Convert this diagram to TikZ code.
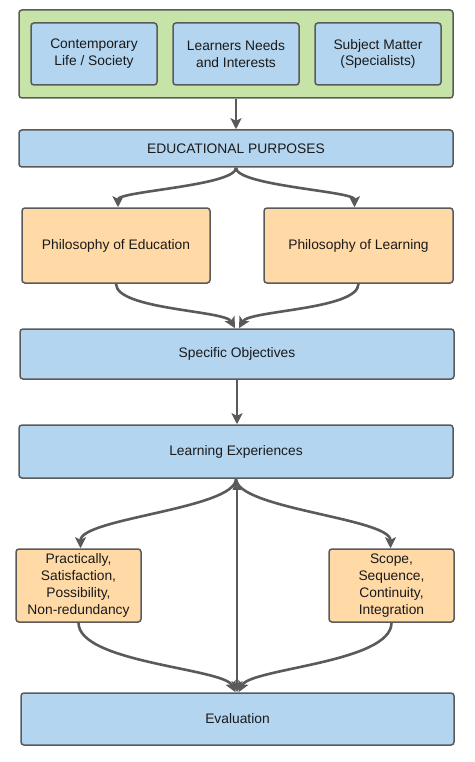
\documentclass[tikz,border=0pt]{standalone}
\usepackage{fontspec}
\setmainfont{Liberation Sans}
\usetikzlibrary{arrows.meta}
\definecolor{gfill}{HTML}{C6E3A8}
\definecolor{bfill}{HTML}{B3D5F0}
\definecolor{ofill}{HTML}{FFD9A6}
\definecolor{edge}{HTML}{5A5A5A}
\definecolor{txt}{HTML}{1A1A1A}
\begin{document}
\begin{tikzpicture}[x=1pt,y=-1pt,
  box/.style={draw=edge,line width=1.5pt,rounded corners=3pt,inner sep=0pt,
    align=center,text=txt,font=\fontsize{13.8}{16.8}\selectfont},
  bluebox/.style={box,fill=bfill},
  orangebox/.style={box,fill=ofill},
  greenbox/.style={box,fill=gfill},
  conn/.style={draw=edge,line width=2.6pt,-{Stealth[length=11pt,width=11pt,inset=2.5pt]}},
]
\useasboundingbox (0,0) rectangle (474,762);
\node[greenbox,minimum width=434pt,minimum height=88pt] (src) at (236,54) {};
\node[bluebox,minimum width=126pt,minimum height=62pt] (life) at (94,54) {Contemporary\\Life / Society};
\node[bluebox,minimum width=126pt,minimum height=62pt] (need) at (236,54) {Learners Needs\\and Interests};
\node[bluebox,minimum width=126pt,minimum height=62pt] (subj) at (378,54) {Subject Matter\\(Specialists)};
\node[bluebox,minimum width=434pt,minimum height=37pt] (ep) at (236,148.5) {EDUCATIONAL PURPOSES};
\node[orangebox,minimum width=188pt,minimum height=75pt] (phe) at (116,245.5) {Philosophy of Education};
\node[orangebox,minimum width=189pt,minimum height=75pt] (phl) at (358.5,245.5) {Philosophy of Learning};
\node[bluebox,minimum width=434pt,minimum height=50pt] (so) at (237,354) {Specific Objectives};
\node[bluebox,minimum width=434pt,minimum height=53pt] (le) at (236,451.5) {Learning Experiences};
\node[orangebox,minimum width=125pt,minimum height=73pt] (crit) at (78.5,585.5) {Practically,\\Satisfaction,\\Possibility,\\Non-redundancy};
\node[orangebox,minimum width=125pt,minimum height=73pt] (org) at (391.5,585.5) {Scope,\\Sequence,\\Continuity,\\Integration};
\node[bluebox,minimum width=433pt,minimum height=52pt] (ev) at (237.5,719) {Evaluation};
% connectors
\draw[conn] (src.south) -- (ep.north);
\draw[conn] (ep.south) .. controls +(0,18) and +(0,-16) .. ([xshift=2pt]phe.north);
\draw[conn] (ep.south) .. controls +(0,18) and +(0,-16) .. ([xshift=-4pt]phl.north);
\draw[conn] (phe.south) .. controls +(0,26) and +(-10,-18) .. ([xshift=-2pt]so.north);
\draw[conn] (phl.south) .. controls +(0,26) and +(10,-18) .. ([xshift=2pt]so.north);
\draw[conn] (so.south) -- ([xshift=1pt]le.north);
\draw[conn] (le.south) .. controls +(0,30) and +(0,-30) .. ([xshift=2pt]crit.north);
\draw[conn] (le.south) .. controls +(0,30) and +(0,-30) .. ([xshift=-1pt]org.north);
\draw[conn] (crit.south) .. controls +(0,40) and +(-12,-24) .. ([xshift=-2pt]ev.north);
\draw[conn] (org.south) .. controls +(0,40) and +(12,-24) .. ([xshift=1pt]ev.north);
\draw[draw=edge,line width=2.6pt,{Triangle[open,length=11pt,width=8pt]}-{Stealth[length=11pt,width=11pt,inset=2.5pt]}] ([xshift=1pt]le.south) -- ([xshift=-0.5pt]ev.north);
\end{tikzpicture}
\end{document}
